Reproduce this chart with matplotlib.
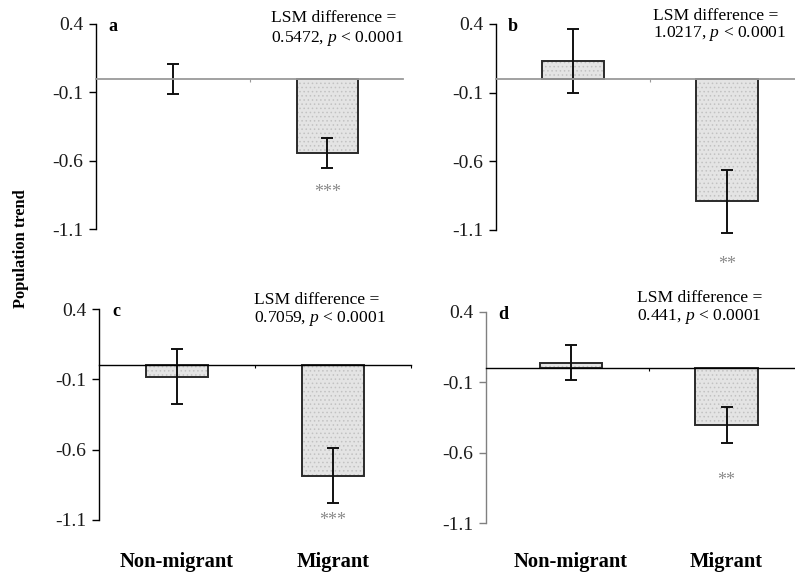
import matplotlib
matplotlib.use("Agg")
import matplotlib.pyplot as plt
from matplotlib.transforms import blended_transform_factory

plt.rcParams["font.family"] = ["Liberation Serif", "DejaVu Serif"]
plt.rcParams["mathtext.fontset"] = "custom"
plt.rcParams["mathtext.rm"] = "Liberation Serif"
plt.rcParams["mathtext.it"] = "Liberation Serif:italic"
plt.rcParams["hatch.linewidth"] = 0.6

# ---- data -------------------------------------------------------------
categories = ["Non-migrant", "Migrant"]
panel_letters = ["a", "b", "c", "d"]

means_a = [0.0, -0.5472]
err_a = [0.11, 0.11]
means_b = [0.13, -0.8917]
err_b = [0.235, 0.23]
means_c = [-0.08, -0.7859]
err_c = [0.195, 0.195]
means_d = [0.04, -0.401]
err_d = [0.123, 0.127]

lsm_diff = ["0.5472", "1.0217", "0.7059", "0.441"]
p_text = "0.0001"
stars = ["***", "**", "***", "**"]
star_y = [-0.83, -1.35, -1.105, -0.80]

yticks = [0.4, -0.1, -0.6, -1.1]
ytick_labels = ["0.4", "-0.1", "-0.6", "-1.1"]

# ---- layout (pixels) --------------------------------------------------
W, H = 795, 573
fig = plt.figure(figsize=(W / 100, H / 100), dpi=100)


def px_axes(left, right, top, bottom):
    return fig.add_axes([left / W, 1 - bottom / H, (right - left) / W, (bottom - top) / H])


panels = [
    dict(box=(96, 403, 24, 229), xlim=(-0.5, 1.49), means=means_a, err=err_a,
         zero_col="#9a9a9a", zero_lw=1.3, spine_col="black", tick_col="black",
         text_xy=(271, 21.5), text_gap=20, xmid=[0.5]),
    dict(box=(496, 795, 24, 230), xlim=(-0.5, 1.44), means=means_b, err=err_b,
         zero_col="#9a9a9a", zero_lw=1.3, spine_col="black", tick_col="black",
         text_xy=(653, 19.5), text_gap=17.5, xmid=[0.5]),
    dict(box=(99, 411, 309, 520), xlim=(-0.5, 1.5), means=means_c, err=err_c,
         zero_col="black", zero_lw=1.0, spine_col="black", tick_col="black",
         text_xy=(254, 304), text_gap=18.5, xmid=[0.5, 1.5]),
    dict(box=(486, 795, 312, 523), xlim=(-0.547, 1.44), means=means_d, err=err_d,
         zero_col="black", zero_lw=1.0, spine_col="#808080", tick_col="#808080",
         text_xy=(637, 302.5), text_gap=17.5, xmid=[0.5]),
]

x = [0, 1]
for i, p in enumerate(panels):
    ax = px_axes(*p["box"])
    ax.set_xlim(*p["xlim"])
    ax.set_ylim(-1.1, 0.4)

    # only bars with a visible height get a fill and an outline
    bx = [xi for xi, m in zip(x, p["means"]) if m != 0]
    bh = [m for m in p["means"] if m != 0]
    ax.bar(bx, bh, width=0.4, color="#e4e4e4", edgecolor="#c2c2c2",
           hatch="....", linewidth=0, zorder=2)
    ax.bar(bx, bh, width=0.4, facecolor="none", edgecolor="#2a2a2a",
           linewidth=1.4, zorder=3)
    ax.errorbar(x, p["means"], yerr=p["err"], fmt="none", ecolor="#111111",
                elinewidth=1.4, capsize=4.5, capthick=1.4, zorder=4, clip_on=False)

    for s in ["top", "right"]:
        ax.spines[s].set_visible(False)
    ax.spines["bottom"].set_position(("data", 0))
    ax.spines["bottom"].set_color(p["zero_col"])
    ax.spines["bottom"].set_linewidth(p["zero_lw"])
    ax.spines["bottom"].set_zorder(5)
    ax.spines["left"].set_color(p["spine_col"])
    ax.spines["left"].set_linewidth(1.0)

    ax.set_xticks(p["xmid"])
    ax.set_xticklabels([])
    ax.tick_params(axis="x", direction="out", length=2.5, width=0.8,
                   color=p["zero_col"])
    ax.set_yticks(yticks)
    ax.set_yticklabels(ytick_labels)
    ax.tick_params(axis="y", direction="out", length=5, width=1.0, pad=4,
                   labelsize=14, color=p["tick_col"], labelcolor="#1a1a1a")
    ax.patch.set_visible(False)

    # panel letter
    ax.text(p["xlim"][0] + 0.11 * (p["xlim"][1] - p["xlim"][0]) / 2, 0.385,
            panel_letters[i], fontsize=13, fontweight="bold", ha="center",
            va="center")

    # significance stars under the migrant bar
    ax.text(1, star_y[i], stars[i], fontsize=13, color="#8a8a8a",
            ha="center", va="center", clip_on=False)

    # LSM annotation
    tx, ty = p["text_xy"]
    fig.text(tx / W, 1 - ty / H, "LSM difference =", fontsize=12.6,
             ha="left", va="baseline")
    fig.text(tx / W, 1 - (ty + p["text_gap"]) / H,
             lsm_diff[i] + ", $p$ < " + p_text, fontsize=12.6,
             ha="left", va="baseline")

    # category labels under the bottom panels
    if i >= 2:
        trans = blended_transform_factory(ax.transData, fig.transFigure)
        for xi, lab in zip(x, categories):
            ax.text(xi, 1 - 562 / H, lab, transform=trans, fontsize=14.8,
                    fontweight="bold", ha="center", va="center")

fig.text(21.5 / W, 1 - 249 / H, "Population trend", rotation=90, fontsize=11.8,
         fontweight="bold", ha="center", va="center")

fig.savefig("out.png", dpi=100)
